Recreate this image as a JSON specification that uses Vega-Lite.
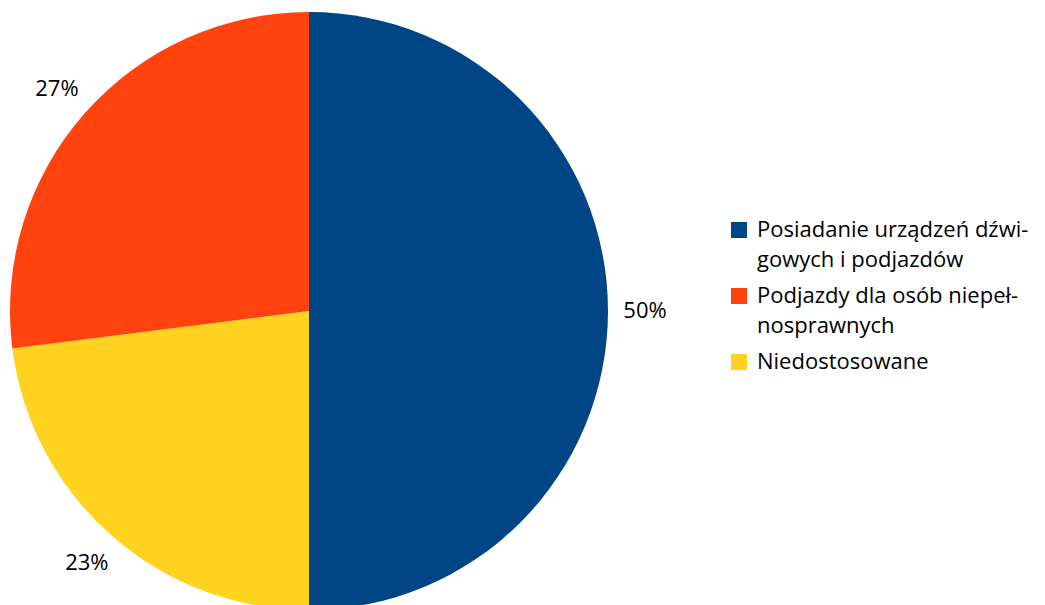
{
  "$schema": "https://vega.github.io/schema/vega-lite/v6.json",
  "width": 618,
  "height": 622,
  "padding": 0,
  "autosize": {"type": "pad"},
  "background": "white",
  "config": {"view": {"stroke": null}, "font": "Open Sans"},
  "data": {
    "values": [
      {"cat": "Posiadanie urządzeń dźwigowych i podjazdów", "value": 50, "label": "50%", "ord": 1},
      {"cat": "Niedostosowane", "value": 23, "label": "23%", "ord": 2},
      {"cat": "Podjazdy dla osób niepełnosprawnych", "value": 27, "label": "27%", "ord": 3}
    ]
  },
  "encoding": {
    "theta": {"field": "value", "type": "quantitative", "stack": true},
    "order": {"field": "ord", "type": "quantitative"}
  },
  "layer": [
    {
      "mark": {"type": "arc", "outerRadius": 299},
      "encoding": {
        "color": {
          "field": "cat",
          "type": "nominal",
          "scale": {
            "domain": ["Posiadanie urządzeń dźwigowych i podjazdów", "Podjazdy dla osób niepełnosprawnych", "Niedostosowane"],
            "range": ["#004586", "#ff420e", "#ffd320"]
          },
          "legend": {
            "title": null,
            "orient": "none",
            "legendX": 728,
            "legendY": 219,
            "symbolType": "square",
            "symbolSize": 256,
            "symbolStrokeWidth": 0,
            "symbolOpacity": 1,
            "labelFont": "Open Sans",
            "labelFontSize": 22,
            "labelColor": "#000000",
            "labelLimit": 400,
            "labelOffset": 7,
            "rowPadding": 14,
            "labelExpr": "datum.label == 'Posiadanie urządzeń dźwigowych i podjazdów' ? ['Posiadanie urządzeń dźwi-', 'gowych i podjazdów'] : datum.label == 'Podjazdy dla osób niepełnosprawnych' ? ['Podjazdy dla osób niepeł-', 'nosprawnych'] : datum.label",
            "encode": {
              "labels": {
                "update": {
                  "lineHeight": {"value": 30}
                }
              }
            }
          }
        }
      }
    },
    {
      "mark": {"type": "text", "radius": 336, "fontSize": 22, "font": "Open Sans", "color": "#000000"},
      "encoding": {"text": {"field": "label"}}
    }
  ]
}
